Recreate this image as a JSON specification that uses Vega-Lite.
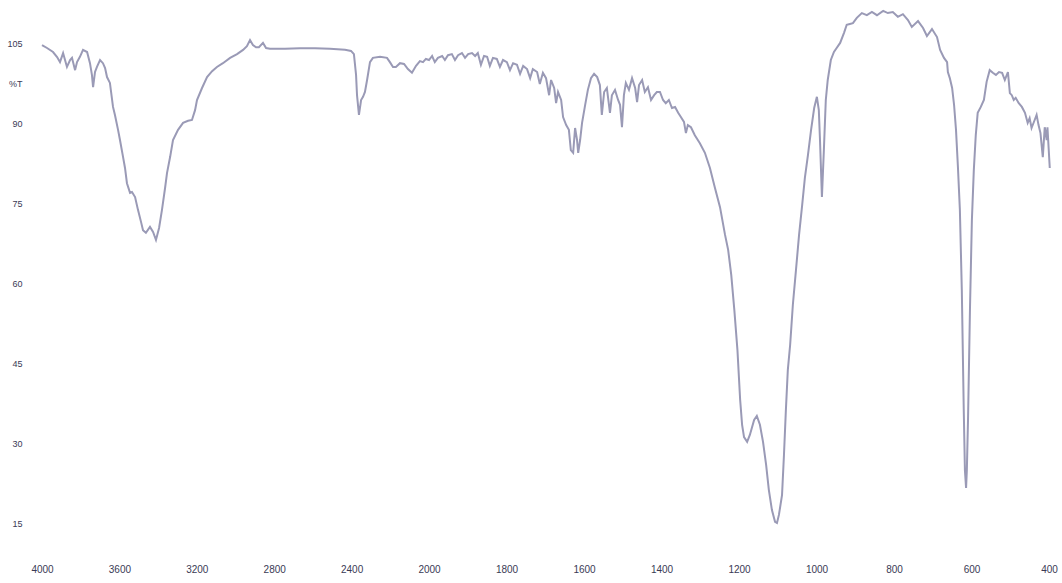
{
  "$schema": "https://vega.github.io/schema/vega-lite/v6.json",
  "width": 1012,
  "height": 545,
  "autosize": "none",
  "padding": {"left": 42, "top": 0, "right": 8, "bottom": 38},
  "background": "white",
  "config": {"view": {"stroke": null}},
  "data": {"values": [
    {"wn":4000,"T":104.8},{"wn":3974,"T":104.25},{"wn":3943,"T":103.5},{"wn":3922,"T":102.56},{"wn":3907,"T":101.6},{"wn":3891,"T":103.3},{"wn":3881,"T":102.0},{"wn":3871,"T":100.7},{"wn":3855,"T":102.0},{"wn":3845,"T":102.4},{"wn":3829,"T":100.1},{"wn":3819,"T":101.6},{"wn":3804,"T":102.6},{"wn":3788,"T":103.9},{"wn":3767,"T":103.5},{"wn":3752,"T":101.4},{"wn":3742,"T":99.2},{"wn":3736,"T":96.9},{"wn":3726,"T":99.75},{"wn":3716,"T":100.7},{"wn":3700,"T":102.0},{"wn":3685,"T":101.4},{"wn":3674,"T":100.5},{"wn":3664,"T":98.8},{"wn":3649,"T":97.7},{"wn":3633,"T":93.2},{"wn":3623,"T":91.7},{"wn":3607,"T":88.9},{"wn":3597,"T":87.0},{"wn":3581,"T":83.8},{"wn":3571,"T":81.75},{"wn":3561,"T":78.9},{"wn":3545,"T":77.1},{"wn":3535,"T":77.25},{"wn":3519,"T":76.3},{"wn":3504,"T":73.9},{"wn":3488,"T":71.6},{"wn":3478,"T":70.1},{"wn":3463,"T":69.6},{"wn":3442,"T":70.7},{"wn":3426,"T":69.75},{"wn":3411,"T":68.25},{"wn":3395,"T":70.5},{"wn":3380,"T":73.9},{"wn":3364,"T":78.0},{"wn":3354,"T":80.8},{"wn":3338,"T":83.8},{"wn":3323,"T":87.0},{"wn":3297,"T":88.9},{"wn":3271,"T":90.2},{"wn":3245,"T":90.6},{"wn":3225,"T":90.75},{"wn":3209,"T":92.6},{"wn":3199,"T":94.5},{"wn":3173,"T":96.75},{"wn":3147,"T":98.8},{"wn":3121,"T":99.9},{"wn":3096,"T":100.7},{"wn":3065,"T":101.4},{"wn":3028,"T":102.4},{"wn":2992,"T":103.1},{"wn":2961,"T":103.9},{"wn":2941,"T":104.6},{"wn":2925,"T":105.75},{"wn":2910,"T":104.8},{"wn":2894,"T":104.4},{"wn":2879,"T":104.4},{"wn":2858,"T":105.2},{"wn":2842,"T":104.25},{"wn":2822,"T":104.1},{"wn":2744,"T":104.1},{"wn":2667,"T":104.2},{"wn":2589,"T":104.2},{"wn":2512,"T":104.1},{"wn":2434,"T":103.9},{"wn":2403,"T":103.7},{"wn":2388,"T":103.1},{"wn":2377,"T":99.2},{"wn":2372,"T":95.4},{"wn":2362,"T":91.7},{"wn":2351,"T":94.5},{"wn":2341,"T":95.1},{"wn":2331,"T":96.0},{"wn":2320,"T":98.25},{"wn":2305,"T":101.6},{"wn":2290,"T":102.4},{"wn":2253,"T":102.6},{"wn":2217,"T":102.4},{"wn":2202,"T":101.6},{"wn":2186,"T":100.7},{"wn":2171,"T":100.7},{"wn":2150,"T":101.4},{"wn":2129,"T":101.25},{"wn":2109,"T":100.3},{"wn":2088,"T":99.6},{"wn":2067,"T":100.9},{"wn":2047,"T":101.8},{"wn":2031,"T":101.6},{"wn":2016,"T":102.2},{"wn":2000,"T":102.0},
    {"wn":1992,"T":102.75},{"wn":1985,"T":101.6},{"wn":1977,"T":102.4},{"wn":1966,"T":102.75},{"wn":1959,"T":102.0},{"wn":1951,"T":102.9},{"wn":1941,"T":103.1},{"wn":1933,"T":102.0},{"wn":1925,"T":102.9},{"wn":1915,"T":103.3},{"wn":1907,"T":102.4},{"wn":1899,"T":103.1},{"wn":1889,"T":103.3},{"wn":1881,"T":102.75},{"wn":1874,"T":103.3},{"wn":1866,"T":101.1},{"wn":1858,"T":102.75},{"wn":1850,"T":102.6},{"wn":1843,"T":100.9},{"wn":1835,"T":102.4},{"wn":1825,"T":102.2},{"wn":1817,"T":100.7},{"wn":1809,"T":102.0},{"wn":1799,"T":101.6},{"wn":1791,"T":100.1},{"wn":1783,"T":101.4},{"wn":1773,"T":101.1},{"wn":1765,"T":99.4},{"wn":1757,"T":100.9},{"wn":1747,"T":100.3},{"wn":1739,"T":98.6},{"wn":1732,"T":100.3},{"wn":1721,"T":99.75},{"wn":1714,"T":97.5},{"wn":1706,"T":99.6},{"wn":1698,"T":98.6},{"wn":1690,"T":95.4},{"wn":1685,"T":98.25},{"wn":1677,"T":96.75},{"wn":1672,"T":93.9},{"wn":1667,"T":96.0},{"wn":1659,"T":94.5},{"wn":1654,"T":91.3},{"wn":1646,"T":89.8},{"wn":1639,"T":88.9},{"wn":1634,"T":85.1},{"wn":1628,"T":84.6},{"wn":1623,"T":89.25},{"wn":1618,"T":87.0},{"wn":1615,"T":84.6},{"wn":1610,"T":87.0},{"wn":1605,"T":90.2},{"wn":1597,"T":93.6},{"wn":1590,"T":96.4},{"wn":1582,"T":98.6},{"wn":1574,"T":99.4},{"wn":1566,"T":98.8},{"wn":1559,"T":97.3},{"wn":1554,"T":91.7},{"wn":1548,"T":96.0},{"wn":1541,"T":96.75},{"wn":1533,"T":92.1},{"wn":1528,"T":95.4},{"wn":1520,"T":96.4},{"wn":1512,"T":94.5},{"wn":1507,"T":93.6},{"wn":1502,"T":89.4},{"wn":1497,"T":95.4},{"wn":1492,"T":97.7},{"wn":1484,"T":96.4},{"wn":1476,"T":98.6},{"wn":1468,"T":96.75},{"wn":1463,"T":94.1},{"wn":1458,"T":97.3},{"wn":1450,"T":98.25},{"wn":1443,"T":96.0},{"wn":1435,"T":96.9},{"wn":1427,"T":94.5},{"wn":1419,"T":95.4},{"wn":1412,"T":96.0},{"wn":1404,"T":96.0},{"wn":1396,"T":94.5},{"wn":1389,"T":93.9},{"wn":1381,"T":94.5},{"wn":1373,"T":93.0},{"wn":1365,"T":93.2},{"wn":1357,"T":92.1},{"wn":1350,"T":91.3},{"wn":1342,"T":90.4},{"wn":1337,"T":88.3},{"wn":1332,"T":89.8},{"wn":1324,"T":89.4},{"wn":1314,"T":87.9},{"wn":1301,"T":86.4},{"wn":1288,"T":84.6},{"wn":1275,"T":81.75},{"wn":1262,"T":78.0},{"wn":1249,"T":74.4},{"wn":1236,"T":69.2},{"wn":1228,"T":66.4},{"wn":1220,"T":61.7},{"wn":1212,"T":55.1},{"wn":1204,"T":47.6},{"wn":1197,"T":38.25},{"wn":1192,"T":33.6},{"wn":1187,"T":31.3},{"wn":1179,"T":30.4},{"wn":1172,"T":31.7},{"wn":1161,"T":34.5},{"wn":1154,"T":35.25},{"wn":1146,"T":33.6},{"wn":1138,"T":30.4},{"wn":1130,"T":26.1},{"wn":1123,"T":21.4},{"wn":1115,"T":17.6},{"wn":1107,"T":15.4},{"wn":1102,"T":15.2},{"wn":1097,"T":16.7},{"wn":1089,"T":20.4},{"wn":1084,"T":27.9},{"wn":1079,"T":36.4},{"wn":1074,"T":43.9},{"wn":1068,"T":48.6},{"wn":1061,"T":56.1},{"wn":1053,"T":62.6},{"wn":1045,"T":69.2},{"wn":1037,"T":74.8},{"wn":1030,"T":79.9},{"wn":1022,"T":84.2},{"wn":1014,"T":88.9},{"wn":1006,"T":93.0},{"wn":999,"T":95.1},{"wn":994,"T":92.6},{"wn":991,"T":87.0},{"wn":986,"T":76.3},{"wn":981,"T":85.1},{"wn":976,"T":94.5},{"wn":971,"T":98.25},{"wn":963,"T":102.0},{"wn":955,"T":103.5},{"wn":948,"T":104.25},{"wn":939,"T":105.2},{"wn":929,"T":107.1},{"wn":922,"T":108.6},{"wn":914,"T":108.75},{"wn":906,"T":108.9},{"wn":896,"T":109.9},{"wn":883,"T":110.8},{"wn":870,"T":110.4},{"wn":857,"T":111.0},{"wn":844,"T":110.4},{"wn":828,"T":111.2},{"wn":816,"T":110.8},{"wn":803,"T":111.0},{"wn":790,"T":110.1},{"wn":777,"T":110.6},{"wn":764,"T":109.5},{"wn":754,"T":108.2},{"wn":738,"T":109.3},{"wn":725,"T":108.0},{"wn":715,"T":106.5},{"wn":702,"T":107.8},{"wn":689,"T":106.3},{"wn":681,"T":103.9},{"wn":671,"T":102.4},{"wn":663,"T":101.6},{"wn":661,"T":99.75},{"wn":656,"T":98.6},{"wn":650,"T":96.75},{"wn":645,"T":93.6},{"wn":640,"T":88.9},{"wn":635,"T":81.9},{"wn":630,"T":73.9},{"wn":625,"T":58.9},{"wn":620,"T":36.4},{"wn":617,"T":25.1},{"wn":614,"T":21.75},{"wn":612,"T":25.1},{"wn":609,"T":34.5},{"wn":604,"T":55.1},{"wn":599,"T":72.0},{"wn":594,"T":81.4},{"wn":589,"T":87.9},{"wn":584,"T":92.1},{"wn":576,"T":93.2},{"wn":568,"T":94.5},{"wn":561,"T":97.9},{"wn":553,"T":100.1},{"wn":545,"T":99.6},{"wn":537,"T":99.2},{"wn":529,"T":99.75},{"wn":521,"T":99.6},{"wn":514,"T":98.25},{"wn":506,"T":99.75},{"wn":501,"T":95.8},{"wn":496,"T":95.4},{"wn":491,"T":94.5},{"wn":486,"T":94.9},{"wn":478,"T":93.9},{"wn":470,"T":93.2},{"wn":462,"T":92.1},{"wn":455,"T":90.2},{"wn":450,"T":91.1},{"wn":445,"T":89.25},{"wn":437,"T":90.75},{"wn":432,"T":91.7},{"wn":427,"T":89.8},{"wn":422,"T":88.3},{"wn":416,"T":83.8},{"wn":411,"T":89.4},{"wn":406,"T":87.0},{"wn":404,"T":89.4},{"wn":398,"T":81.75}
  ]},
  "mark": {"type": "line", "color": "#9a9ab6", "strokeWidth": 2, "interpolate": "linear"},
  "encoding": {
    "x": {
      "field": "wn", "type": "quantitative", "sort": null,
      "scale": {"domain": [4000, 2000, 400], "range": [0, 387, 1007], "nice": false, "zero": false},
      "axis": {
        "title": null, "domain": false, "ticks": false, "tickSize": 0, "grid": false,
        "values": [4000, 3600, 3200, 2800, 2400, 2000, 1800, 1600, 1400, 1200, 1000, 800, 600, 400],
        "format": "d", "labelFont": "Liberation Sans", "labelFontSize": 10, "labelColor": "#3a3a55",
        "labelPadding": 19, "labelFlush": false, "labelOverlap": false
      }
    },
    "y": {
      "field": "T", "type": "quantitative",
      "scale": {"domain": [11.06, 113.25], "nice": false, "zero": false},
      "axis": {
        "title": null, "domain": false, "ticks": false, "tickSize": 0, "grid": false,
        "values": [15, 30, 45, 60, 75, 90, 97.5, 105],
        "labelExpr": "datum.value == 97.5 ? '%T' : format(datum.value, 'd')",
        "labelFont": "Liberation Sans", "labelFontSize": 9, "labelColor": "#3a3a55",
        "labelPadding": 20, "labelOverlap": false
      }
    }
  }
}
